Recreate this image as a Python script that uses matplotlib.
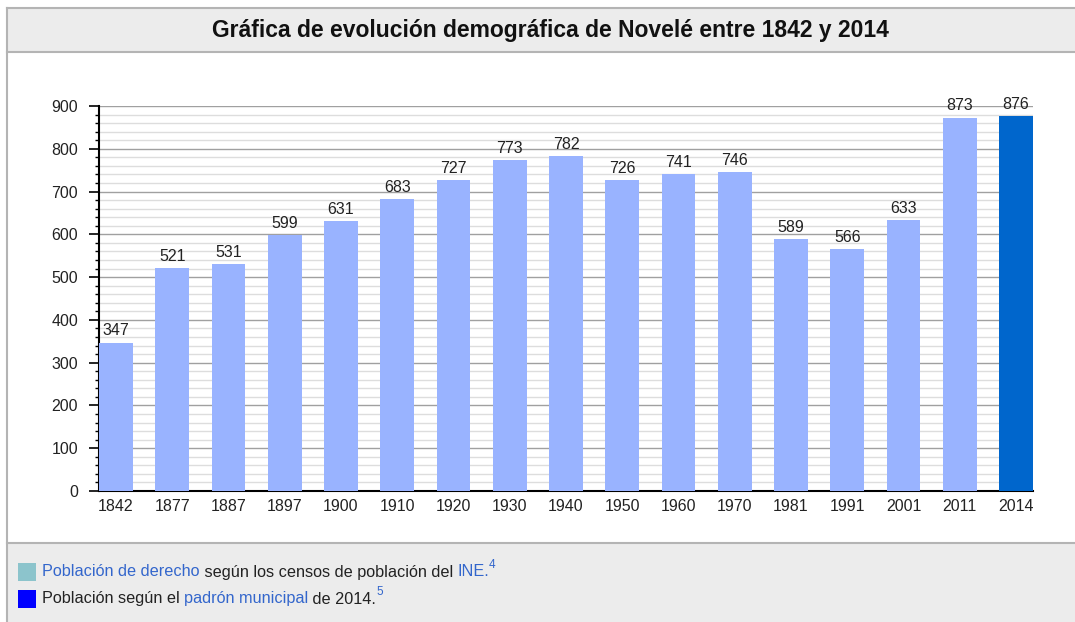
import numpy as np
import matplotlib

matplotlib.use('Agg')
import matplotlib.pyplot as plt
from matplotlib.patches import Rectangle
from matplotlib.ticker import MultipleLocator

years = ['1842', '1877', '1887', '1897', '1900', '1910', '1920', '1930', '1940',
         '1950', '1960', '1970', '1981', '1991', '2001', '2011', '2014']
population = [347, 521, 531, 599, 631, 683, 727, 773, 782,
              726, 741, 746, 589, 566, 633, 873, 876]
source = ['censo'] * 16 + ['padron']

title = 'Gráfica de evolución demográfica de Novelé entre 1842 y 2014'
legend_lines = [
    [('Población de derecho', 'link'), (' según los censos de población del ', 'text'),
     ('INE.', 'link'), ('4', 'sup')],
    [('Población según el ', 'text'), ('padrón municipal', 'link'), (' de 2014.', 'text'),
     ('5', 'sup')],
]
legend_swatches = ['#8cc4cc', '#0000ff']

W, H = 1075, 622
plt.rcParams['font.family'] = ['Liberation Sans', 'DejaVu Sans']

fig = plt.figure(figsize=(W / 100, H / 100), dpi=100)
fig.patch.set_facecolor('white')


def fx(x):
    return x / W


def fy(y):
    return 1 - y / H


# title band and legend band
fig.patches.append(Rectangle((fx(7), fy(52)), fx(W - 7), 44 / H, transform=fig.transFigure,
                             facecolor='#ececec', edgecolor='none', zorder=0))
fig.patches.append(Rectangle((fx(7), 0), fx(W - 7), (H - 543) / H, transform=fig.transFigure,
                             facecolor='#ececec', edgecolor='none', zorder=0))
for yy in [8, 52, 543]:
    fig.add_artist(plt.Line2D([fx(7), 1], [fy(yy), fy(yy)], transform=fig.transFigure,
                              color='#b4b4b4', lw=1.5))
fig.add_artist(plt.Line2D([fx(7), fx(7)], [0, fy(8)], transform=fig.transFigure,
                          color='#b4b4b4', lw=1.5))

fig.text(fx(550), fy(31), title, ha='center', va='center', fontsize=16.5,
         fontweight='bold', color='#111111')

# chart
ax = fig.add_axes([fx(99), fy(491), fx(1033 - 99), (491 - 106) / H])
x = np.arange(len(years))
colors = ['#99b3ff' if s == 'censo' else '#0066cc' for s in source]
bw = 0.6
ax.bar(x, population, width=bw, color=colors, zorder=3)
for xi, v in zip(x, population):
    ax.annotate(str(v), (xi, v), xytext=(0, 3), textcoords='offset points',
                ha='center', va='bottom', fontsize=11.5, color='#222222', zorder=4)

ax.set_xlim(-bw / 2, len(years) - 1 + bw / 2)
ax.set_ylim(0, 900)
ax.yaxis.set_major_locator(MultipleLocator(100))
ax.yaxis.set_minor_locator(MultipleLocator(20))
ax.grid(which='major', axis='y', color='#a0a0a0', lw=1, zorder=1)
ax.grid(which='minor', axis='y', color='#dddddd', lw=1, zorder=1)
ax.set_xticks(x)
ax.set_xticklabels(years, fontsize=11.5, color='#222222')
ax.tick_params(axis='x', length=0, pad=6)
ax.tick_params(axis='y', which='major', length=7, width=1.2, pad=8, labelsize=11.5,
               labelcolor='#222222')
ax.tick_params(axis='y', which='minor', length=3, width=1)
for s in ['top', 'right']:
    ax.spines[s].set_visible(False)
ax.spines['left'].set_linewidth(1.5)
ax.spines['bottom'].set_linewidth(1.5)
ax.set_facecolor('white')

# legend with mixed colour text
fig.canvas.draw()
renderer = fig.canvas.get_renderer()
ys = [572, 599]
for sw, line, yy in zip(legend_swatches, legend_lines, ys):
    fig.patches.append(Rectangle((fx(18), fy(yy + 9)), 18 / W, 18 / H, transform=fig.transFigure,
                                 facecolor=sw, edgecolor='none'))
    xpos = 42
    for txt, kind in line:
        if kind == 'sup':
            t = fig.text(fx(xpos), fy(yy - 7), txt, fontsize=8.5, color='#3366cc',
                         ha='left', va='center')
        else:
            col = '#3366cc' if kind == 'link' else '#222222'
            t = fig.text(fx(xpos), fy(yy), txt, fontsize=11.7, color=col, ha='left', va='center')
        bb = t.get_window_extent(renderer)
        xpos += bb.width

fig.savefig('out.png', dpi=100)
